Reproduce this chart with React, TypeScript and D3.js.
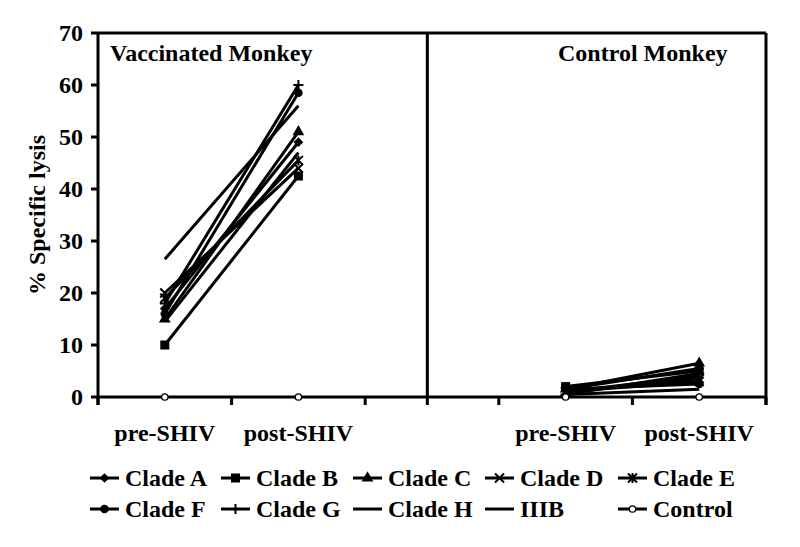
import React from "react";
import * as d3 from "d3";

const W = 800;
const H = 547;

const seriesNames = ["Clade A", "Clade B", "Clade C", "Clade D", "Clade E", "Clade F", "Clade G", "Clade H", "IIIB", "Control"];
const markers = ["diamond", "square", "triangle", "x", "star", "circle", "plus", "none", "none", "open"];
const vaccinatedPre = [17, 10, 15, 20, 19, 16, 18, 14.5, 26.5, 0];
const vaccinatedPost = [49, 42.5, 51, 44, 45.5, 58.5, 60, 47, 56, 0];
const controlPre = [1.5, 2, 1.5, 1, 1, 1.5, 0.5, 1, 0.5, 0];
const controlPost = [5.5, 5, 6.5, 3, 3.5, 2.5, 4.5, 4, 1.5, 0];
const yTicks = [0, 10, 20, 30, 40, 50, 60, 70];
const xSlots = [0, 1, 2, 3, 4, 5];
const categoryLabels = ["pre-SHIV", "post-SHIV"];
const panelTitles = ["Vaccinated Monkey", "Control Monkey"];

const FONT = "'Liberation Serif', 'Times New Roman', serif";

function Marker({ type, x, y }: { type: string; x: number; y: number }) {
  const sw = 2;
  if (type === "none") return null;
  if (type === "diamond") return <path d={d3.symbol(d3.symbolDiamond2, 60)()!} transform={`translate(${x},${y})`} fill="#000" />;
  if (type === "square") return <rect x={x - 4.5} y={y - 4.5} width={9} height={9} fill="#000" />;
  if (type === "triangle") return <path d={d3.symbol(d3.symbolTriangle, 60)()!} transform={`translate(${x},${y})`} fill="#000" />;
  if (type === "circle") return <circle cx={x} cy={y} r={4.3} fill="#000" />;
  if (type === "x")
    return <path d={`M${x - 4.5},${y - 4.5}L${x + 4.5},${y + 4.5}M${x - 4.5},${y + 4.5}L${x + 4.5},${y - 4.5}`} stroke="#000" strokeWidth={sw} />;
  if (type === "star")
    return (
      <path
        d={`M${x - 4.5},${y - 4.5}L${x + 4.5},${y + 4.5}M${x - 4.5},${y + 4.5}L${x + 4.5},${y - 4.5}M${x},${y - 5}L${x},${y + 5}`}
        stroke="#000"
        strokeWidth={sw}
      />
    );
  if (type === "plus") return <path d={`M${x},${y - 5}L${x},${y + 5}M${x - 5},${y}L${x + 5},${y}`} stroke="#000" strokeWidth={sw} />;
  if (type === "open") return <circle cx={x} cy={y} r={3.2} fill="#fff" stroke="#000" strokeWidth={1.3} />;
  return null;
}

export default function App() {
  const x = d3.scaleLinear().domain([0, 5]).range([98, 766]);
  const y = d3.scaleLinear().domain([0, 70]).range([397, 33]);
  const divider = 2.465;
  const panels = [
    { pre: vaccinatedPre, post: vaccinatedPost, xPre: 0.5, xPost: 1.5 },
    { pre: controlPre, post: controlPost, xPre: 3.5, xPost: 4.5 },
  ];
  const line = d3.line<[number, number]>().x((d) => x(d[0])).y((d) => y(d[1]));

  const legendCols = [90, 221, 353, 485, 618];
  const legendRows = [478, 509];

  return (
    <svg width={W} height={H} style={{ position: "absolute", left: 0, top: 0, background: "#fff" }} fontFamily={FONT}>
      <rect width={W} height={H} fill="#fff" />
      <line x1={x(0)} x2={x(5)} y1={y(70)} y2={y(70)} stroke="#000" strokeWidth={3} />
      <line x1={x(0)} x2={x(0)} y1={y(70)} y2={405} stroke="#000" strokeWidth={3} />
      <line x1={x(5)} x2={x(5)} y1={y(70)} y2={405} stroke="#000" strokeWidth={3} />
      <line x1={x(divider)} x2={x(divider)} y1={y(70)} y2={405} stroke="#000" strokeWidth={3} />
      <line x1={x(0)} x2={x(5)} y1={y(0)} y2={y(0)} stroke="#000" strokeWidth={3} />
      {xSlots.map((s) => (
        <line key={s} x1={x(s)} x2={x(s)} y1={y(0)} y2={405} stroke="#000" strokeWidth={3} />
      ))}
      {yTicks.map((t) => (
        <g key={t}>
          <line x1={91} x2={x(0)} y1={y(t)} y2={y(t)} stroke="#000" strokeWidth={3} />
          <text x={83} y={y(t)} dy="0.35em" textAnchor="end" fontSize={24} fontWeight="bold">
            {t}
          </text>
        </g>
      ))}
      <text transform={`translate(37,${(y(0) + y(70)) / 2}) rotate(-90)`} textAnchor="middle" dy="0.35em" fontSize={24} fontWeight="bold">
        % Specific lysis
      </text>
      {panels.map((p, pi) => (
        <g key={pi}>
          <text x={x(p.xPre)} y={441} textAnchor="middle" fontSize={24} fontWeight="bold">
            {categoryLabels[0]}
          </text>
          <text x={x(p.xPost)} y={441} textAnchor="middle" fontSize={24} fontWeight="bold">
            {categoryLabels[1]}
          </text>
          {seriesNames.map((n, i) => (
            <g key={n}>
              <path d={line([[p.xPre, p.pre[i]], [p.xPost, p.post[i]]])!} stroke="#000" strokeWidth={i === 9 ? 1.3 : 3} fill="none" />
              <Marker type={markers[i]} x={x(p.xPre)} y={y(p.pre[i])} />
              <Marker type={markers[i]} x={x(p.xPost)} y={y(p.post[i])} />
            </g>
          ))}
        </g>
      ))}
      <text x={110} y={61} fontSize={24} fontWeight="bold">
        {panelTitles[0]}
      </text>
      <text x={558} y={61} fontSize={24} fontWeight="bold">
        {panelTitles[1]}
      </text>
      {seriesNames.map((n, i) => {
        const cx = legendCols[i % 5];
        const cy = legendRows[Math.floor(i / 5)];
        return (
          <g key={n}>
            <line x1={cx} x2={cx + 29} y1={cy} y2={cy} stroke="#000" strokeWidth={3} />
            <Marker type={markers[i]} x={cx + 14.5} y={cy} />
            <text x={cx + 35} y={cy} dy="0.35em" fontSize={24} fontWeight="bold">
              {n}
            </text>
          </g>
        );
      })}
    </svg>
  );
}
